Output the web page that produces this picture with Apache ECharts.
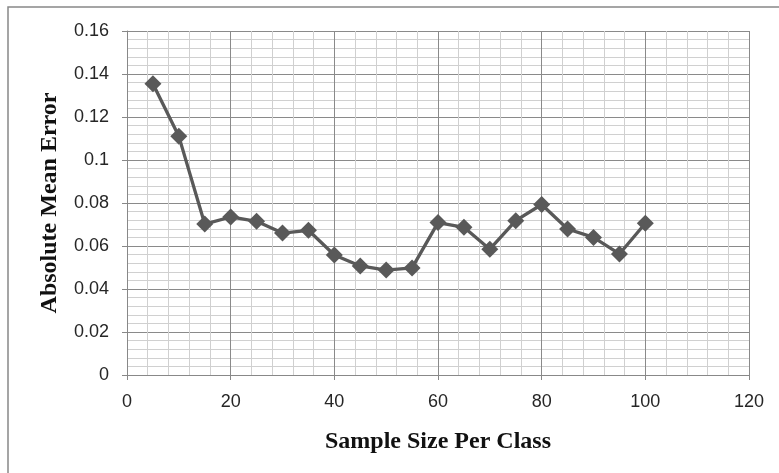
<!DOCTYPE html>
<html><head><meta charset="utf-8">
<script src="https://cdn.jsdelivr.net/npm/echarts@6/dist/echarts.min.js"></script>
<style>html,body{margin:0;padding:0;background:#fff}#c{width:779px;height:473px}</style>
</head><body><div id="c"></div>
<script>
const sampleSizes = [5,10,15,20,25,30,35,40,45,50,55,60,65,70,75,80,85,90,95,100];
const absMeanError = [0.1355,0.111,0.0702,0.0735,0.0715,0.066,0.0673,0.0558,0.0507,0.0488,0.0498,0.0709,0.0687,0.0585,0.0718,0.0793,0.0679,0.0640,0.0563,0.0706];
const xTitle = 'Sample Size Per Class';
const yTitle = 'Absolute Mean Error';

const chart = echarts.init(document.getElementById('c'), null, {renderer:'canvas'});
const labelFont = {color:'#262626', fontSize:18, fontFamily:'"Liberation Sans", Arial, sans-serif'};
const titleFont = {fontFamily:'"Liberation Serif", "Times New Roman", serif', fontWeight:'bold', fontSize:24, color:'#111'};
chart.setOption({
  animation:false,
  backgroundColor:'#fff',
  graphic:[{type:'rect', shape:{x:8,y:7,width:820,height:520}, style:{fill:'none', stroke:'#888', lineWidth:1.5}, silent:true, z:-1}],
  grid:{left:127, right:30, top:31, bottom:98},
  xAxis:{type:'value', min:0, max:120, interval:20,
    name:xTitle, nameLocation:'middle', nameGap:55,
    nameTextStyle:titleFont,
    axisLine:{show:true, onZero:false, lineStyle:{color:'#888'}},
    axisTick:{show:true, length:5, lineStyle:{color:'#888'}},
    axisLabel:Object.assign({margin:18}, labelFont),
    splitLine:{show:true, lineStyle:{color:'#8a8a8a', width:1}},
    minorTick:{show:false, splitNumber:5},
    minorSplitLine:{show:true, lineStyle:{color:'#d0d0d0', width:1}}
  },
  yAxis:{type:'value', min:0, max:0.16, interval:0.02,
    name:yTitle, nameLocation:'middle', nameGap:65,
    nameTextStyle:titleFont,
    axisLine:{show:true, lineStyle:{color:'#888'}},
    axisTick:{show:true, length:5, lineStyle:{color:'#888'}},
    axisLabel:Object.assign({margin:18, formatter:v=>String(+v.toFixed(2))}, labelFont),
    splitLine:{show:true, lineStyle:{color:'#8a8a8a', width:1}},
    minorTick:{show:false, splitNumber:5},
    minorSplitLine:{show:true, lineStyle:{color:'#d0d0d0', width:1}}
  },
  series:[{type:'line', data:sampleSizes.map((x,i)=>[x,absMeanError[i]]),
    symbol:'diamond', symbolSize:17,
    lineStyle:{color:'#595959', width:3.3},
    itemStyle:{color:'#595959'}
  }]
});
</script></body></html>
